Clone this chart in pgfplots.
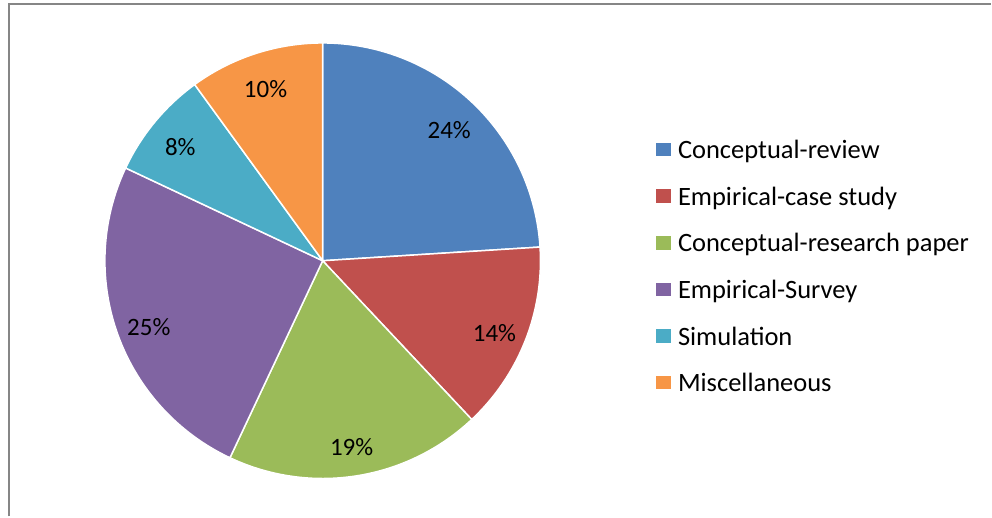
\documentclass[border=0pt]{standalone}
\usepackage{fontspec}
\setmainfont{Carlito}
\usepackage{pgfplots}
\pgfplotsset{compat=1.18}

\definecolor{sA}{HTML}{4F81BD}
\definecolor{sB}{HTML}{C0504D}
\definecolor{sC}{HTML}{9BBB59}
\definecolor{sD}{HTML}{8064A2}
\definecolor{sE}{HTML}{4BACC6}
\definecolor{sF}{HTML}{F79646}
\definecolor{frame}{HTML}{868686}

\pgfplotsset{
    slice/.style={fill=#1, draw=white, line width=1.5pt, samples=90},
    sqlegend/.style={legend image code/.code={\fill[##1] (0pt,-7pt) rectangle (16pt,8pt); \path (20pt,0pt);}},
}
\tikzset{plab/.style={font=\fontsize{25}{29}\selectfont, yshift=-4pt}}

% pie geometry, in pixel units of the 992x517 picture (y upwards)
\def\cx{323}\def\cy{256}\def\R{218}\def\Rl{185}
% shares in percent
\def\vA{24}\def\vB{14}\def\vC{19}\def\vD{25}\def\vE{8}\def\vF{10}
\pgfmathsetmacro\aA{90}
\pgfmathsetmacro\aB{\aA-3.6*\vA}
\pgfmathsetmacro\aC{\aB-3.6*\vB}
\pgfmathsetmacro\aD{\aC-3.6*\vC}
\pgfmathsetmacro\aE{\aD-3.6*\vD}
\pgfmathsetmacro\aF{\aE-3.6*\vE}
\pgfmathsetmacro\aG{\aF-3.6*\vF}

\newcommand\plabel[3]{% start angle, end angle, share
  \pgfmathsetmacro\lx{\cx+\Rl*cos((#1+#2)/2)}%
  \pgfmathsetmacro\ly{\cy+\Rl*sin((#1+#2)/2)}%
  \edef\tmp{\noexpand\node[plab] at (axis cs:\lx,\ly) {#3\noexpand\%};}\tmp}

\begin{document}
\begin{tikzpicture}
\begin{axis}[
    scale only axis, width=992pt, height=517pt,
    xmin=0, xmax=992, ymin=0, ymax=517,
    hide axis, clip=false, sqlegend,
    legend cell align=left,
    legend style={at={(axis cs:652,381)}, anchor=north west, draw=none, fill=none,
        font=\fontsize{26.5}{30}\selectfont, row sep=22.8pt,
        nodes={inner sep=2pt}},
]
\addplot[slice=sA, domain=\aB:\aA] ({\cx+\R*cos(x)},{\cy+\R*sin(x)}) -- (axis cs:\cx,\cy) -- cycle;
\addlegendentry{Conceptual-review}
\addplot[slice=sB, domain=\aC:\aB] ({\cx+\R*cos(x)},{\cy+\R*sin(x)}) -- (axis cs:\cx,\cy) -- cycle;
\addlegendentry{Empirical-case study}
\addplot[slice=sC, domain=\aD:\aC] ({\cx+\R*cos(x)},{\cy+\R*sin(x)}) -- (axis cs:\cx,\cy) -- cycle;
\addlegendentry{Conceptual-research paper}
\addplot[slice=sD, domain=\aE:\aD] ({\cx+\R*cos(x)},{\cy+\R*sin(x)}) -- (axis cs:\cx,\cy) -- cycle;
\addlegendentry{Empirical-Survey}
\addplot[slice=sE, domain=\aF:\aE] ({\cx+\R*cos(x)},{\cy+\R*sin(x)}) -- (axis cs:\cx,\cy) -- cycle;
\addlegendentry{Simulation}
\addplot[slice=sF, domain=\aG:\aF] ({\cx+\R*cos(x)},{\cy+\R*sin(x)}) -- (axis cs:\cx,\cy) -- cycle;
\addlegendentry{Miscellaneous}

\plabel{\aA}{\aB}{\vA}
\plabel{\aB}{\aC}{\vB}
\plabel{\aC}{\aD}{\vC}
\plabel{\aD}{\aE}{\vD}
\plabel{\aE}{\aF}{\vE}
\plabel{\aF}{\aG}{\vF}

\draw[frame, line width=2pt] (axis cs:9,0) -- (axis cs:9,513) -- (axis cs:992,513);
\path (axis cs:0,0) rectangle (axis cs:992,517);
\end{axis}
\end{tikzpicture}
\end{document}
